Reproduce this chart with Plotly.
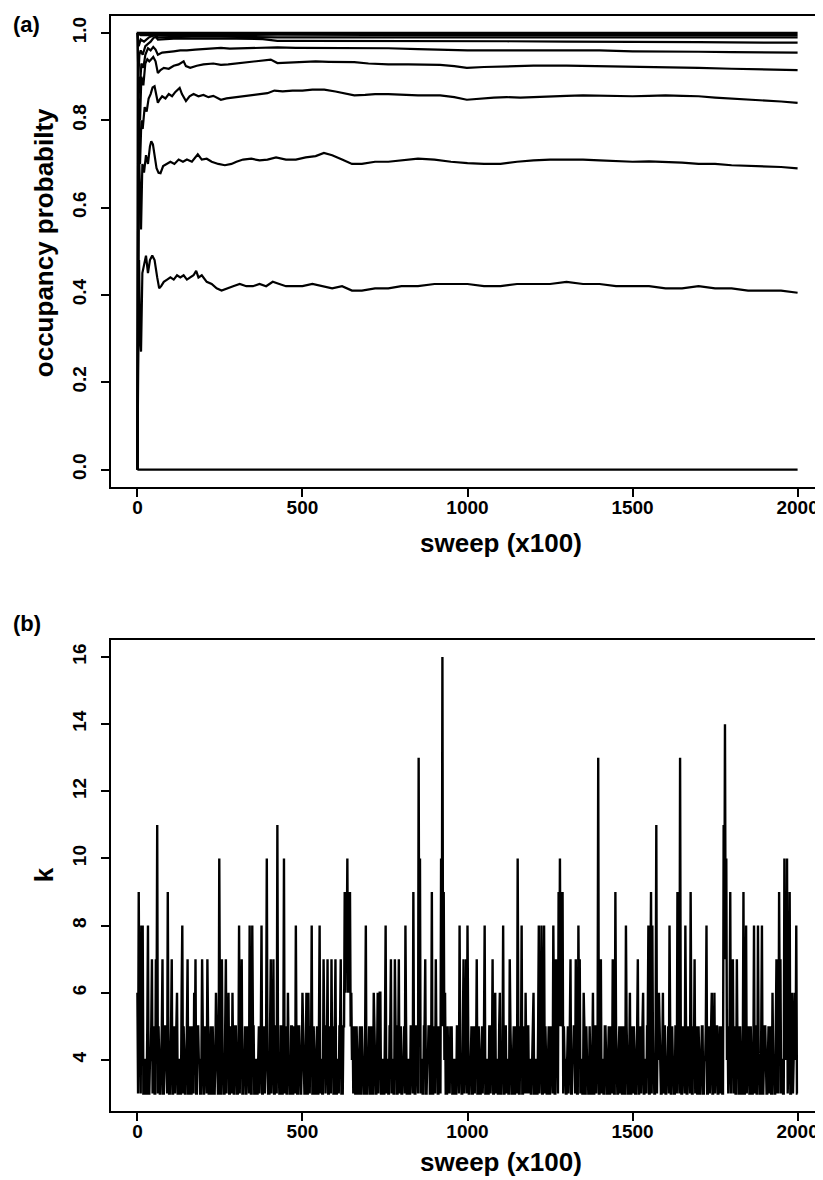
import plotly.graph_objects as go

# ---------------- Panel (a): occupancy probability traces (sweep, value) ----------------
line_041 = [(0, 0), (2, 0.33), (5, 0.48), (8, 0.30), (11, 0.27), (15, 0.45), (20, 0.47), (26, 0.49),
            (32, 0.45), (38, 0.48), (45, 0.49), (52, 0.48), (60, 0.44), (66, 0.415), (72, 0.42),
            (80, 0.43), (90, 0.435), (100, 0.44), (110, 0.435), (120, 0.445), (130, 0.44), (140, 0.445),
            (150, 0.435), (160, 0.44), (170, 0.445), (178, 0.455), (185, 0.44), (195, 0.445), (210, 0.43),
            (225, 0.425), (240, 0.415), (255, 0.41), (270, 0.415), (290, 0.42), (310, 0.425), (330, 0.42),
            (350, 0.42), (370, 0.425), (390, 0.42), (410, 0.43), (430, 0.425), (450, 0.42), (475, 0.42),
            (500, 0.42), (530, 0.425), (560, 0.42), (590, 0.415), (620, 0.42), (650, 0.41), (680, 0.41),
            (720, 0.415), (760, 0.415), (800, 0.42), (850, 0.42), (900, 0.425), (950, 0.425), (1000, 0.425),
            (1050, 0.42), (1100, 0.42), (1150, 0.425), (1200, 0.425), (1250, 0.425), (1300, 0.43),
            (1350, 0.425), (1400, 0.425), (1450, 0.42), (1500, 0.42), (1550, 0.42), (1600, 0.415),
            (1650, 0.415), (1700, 0.42), (1750, 0.415), (1800, 0.415), (1850, 0.41), (1900, 0.41),
            (1950, 0.41), (2000, 0.405)]

line_069 = [(0, 0), (2, 0.55), (5, 0.72), (8, 0.60), (11, 0.55), (15, 0.70), (20, 0.68), (26, 0.72),
            (32, 0.70), (38, 0.74), (42, 0.752), (47, 0.745), (52, 0.72), (58, 0.69), (64, 0.68),
            (70, 0.679), (78, 0.695), (88, 0.70), (100, 0.705), (112, 0.70), (125, 0.71), (138, 0.705),
            (150, 0.71), (165, 0.705), (183, 0.722), (195, 0.71), (210, 0.712), (225, 0.705), (245, 0.70),
            (265, 0.697), (285, 0.70), (300, 0.705), (320, 0.71), (345, 0.712), (370, 0.708), (394, 0.71),
            (420, 0.715), (450, 0.71), (480, 0.71), (510, 0.715), (540, 0.718), (565, 0.725), (590, 0.72),
            (620, 0.71), (650, 0.70), (680, 0.70), (720, 0.705), (760, 0.705), (800, 0.708), (850, 0.712),
            (900, 0.71), (950, 0.705), (1000, 0.702), (1050, 0.70), (1100, 0.70), (1150, 0.705),
            (1200, 0.708), (1250, 0.71), (1300, 0.71), (1350, 0.71), (1400, 0.708), (1450, 0.706),
            (1500, 0.705), (1550, 0.706), (1600, 0.705), (1650, 0.703), (1700, 0.70), (1750, 0.70),
            (1800, 0.697), (1850, 0.696), (1900, 0.695), (1950, 0.693), (2000, 0.69)]

line_084 = [(0, 0), (2, 0.5), (5, 0.75), (8, 0.70), (12, 0.80), (16, 0.78), (22, 0.83), (28, 0.82),
            (34, 0.85), (40, 0.86), (46, 0.875), (52, 0.878), (57, 0.86), (62, 0.84), (68, 0.848),
            (75, 0.855), (85, 0.85), (95, 0.86), (105, 0.855), (115, 0.865), (128, 0.874), (135, 0.86),
            (147, 0.844), (158, 0.855), (170, 0.86), (185, 0.855), (200, 0.858), (215, 0.853), (230, 0.856),
            (253, 0.847), (270, 0.85), (290, 0.852), (310, 0.855), (330, 0.857), (360, 0.86), (394, 0.862),
            (415, 0.868), (440, 0.866), (470, 0.868), (500, 0.868), (530, 0.87), (566, 0.87), (600, 0.866),
            (630, 0.862), (657, 0.857), (690, 0.858), (720, 0.86), (760, 0.86), (800, 0.858), (850, 0.857),
            (917, 0.857), (960, 0.853), (998, 0.847), (1040, 0.85), (1080, 0.852), (1119, 0.853),
            (1160, 0.852), (1200, 0.853), (1250, 0.855), (1300, 0.856), (1350, 0.857), (1400, 0.856),
            (1450, 0.855), (1500, 0.855), (1550, 0.856), (1600, 0.857), (1650, 0.856), (1700, 0.855),
            (1750, 0.852), (1800, 0.85), (1850, 0.848), (1900, 0.846), (1950, 0.843), (2000, 0.84)]

line_0915 = [(0, 0), (2, 0.6), (5, 0.85), (8, 0.80), (12, 0.9), (18, 0.88), (24, 0.93), (30, 0.94),
             (36, 0.935), (42, 0.94), (48, 0.945), (55, 0.935), (62, 0.908), (70, 0.915), (80, 0.92),
             (95, 0.918), (110, 0.925), (125, 0.928), (140, 0.935), (147, 0.924), (160, 0.92), (180, 0.925),
             (200, 0.928), (230, 0.93), (253, 0.927), (275, 0.928), (300, 0.93), (330, 0.932), (360, 0.934),
             (404, 0.939), (424, 0.931), (460, 0.932), (500, 0.934), (540, 0.935), (580, 0.934),
             (620, 0.934), (657, 0.933), (700, 0.93), (760, 0.928), (820, 0.928), (870, 0.927),
             (917, 0.927), (960, 0.924), (998, 0.92), (1050, 0.922), (1119, 0.924), (1200, 0.925),
             (1300, 0.925), (1400, 0.924), (1500, 0.922), (1600, 0.922), (1700, 0.92), (1800, 0.918),
             (1900, 0.917), (2000, 0.915)]

line_0955 = [(0, 0), (2, 0.7), (5, 0.9), (8, 0.88), (12, 0.93), (18, 0.92), (24, 0.95), (32, 0.965),
             (40, 0.96), (48, 0.968), (55, 0.962), (62, 0.95), (75, 0.955), (90, 0.957), (110, 0.958),
             (130, 0.96), (150, 0.96), (175, 0.962), (200, 0.963), (230, 0.964), (253, 0.966), (280, 0.964),
             (320, 0.965), (370, 0.966), (424, 0.967), (480, 0.966), (550, 0.966), (657, 0.966),
             (760, 0.965), (850, 0.963), (917, 0.962), (1000, 0.96), (1119, 0.96), (1250, 0.96),
             (1400, 0.96), (1500, 0.958), (1600, 0.958), (1700, 0.957), (1800, 0.956), (1900, 0.956),
             (2000, 0.955)]

line_098 = [(0, 1), (3, 0.9), (6, 0.95), (10, 0.96), (16, 0.95), (24, 0.97), (32, 0.975), (40, 0.98),
            (50, 0.99), (57, 0.99), (62, 0.985), (80, 0.986), (110, 0.987), (150, 0.987), (200, 0.987),
            (253, 0.988), (300, 0.987), (380, 0.986), (424, 0.982), (500, 0.982), (650, 0.982),
            (800, 0.981), (917, 0.981), (1119, 0.981), (1300, 0.98), (1500, 0.98), (1700, 0.979),
            (1900, 0.978), (2000, 0.978)]

line_099 = [(0, 1), (4, 0.97), (10, 0.985), (20, 0.98), (35, 0.99), (50, 0.995), (62, 0.99),
            (100, 0.991), (200, 0.992), (424, 0.99), (800, 0.99), (1200, 0.99), (1600, 0.99), (2000, 0.99)]

line_0995 = [(0, 1), (10, 0.995), (62, 0.995), (424, 0.996), (1000, 0.995), (2000, 0.995)]

line_100 = [(0, 0), (1, 1), (2000, 1)]

line_000 = [(0, 0), (2000, 0)]

occupancy_lines = [line_000, line_041, line_069, line_084, line_0915, line_0955,
                   line_098, line_099, line_0995, line_100]

# ---------------- Panel (b): number of components k ----------------
# digits 3-9, letters a-g = 10-16
# values read at sweeps 0, 4, 8, ... 2000
k_codes = (
    "69588 34383 47537 b5347 35493 47354 63438 53473 53467 35437"
    "35473 43534 53a37 43756 34635 43857 34354 83853 43548 354a3"
    "37473 5b435 3a436 43534 83543 64363 45834 35384 37547 34753"
    "73457 3599a 99654 35343 54383 43536 43656 34384 35743 75374"
    "34583 43549 354da 43573 45393 47534 ag963 54553 43548 43747"
    "83453 45734 35483 43547 36435 34835 43743 534a3 58346 35434"
    "63438 48385 34354 83759 a9954 35473 45738 74363 54343 6354d"
    "37435 43534 73943 54353 84363 45347 35463 45839 843b5 64365"
    "34583 54359 4d354 83549 35743 53453 48354 63645 3543b ea549"
    "57437 53439 38453 43853 84383 54354 36437 59743 a5a49 36468"
    "3"
).replace(" ", "")
# values read at the in-between sweeps 2, 6, 10, ... 1998
k_codes_mid = (
    "35353 43534 53435 34353 45343 53435 34363 43534 35343 54345"
    "34353 53436 43534 35343 53435 34353 45343 53534 34353 43543"
    "53435 34353 43534 35353 43534 53436 34353 43534 35343 53435"
    "34353 35676 65435 34353 43534 53435 34363 43534 35343 53435"
    "34353 43534 35353 43534 53435 34353 55433 33433 43534 35343"
    "53435 34353 43534 35343 53436 34353 43534 35353 43534 53435"
    "34353 43534 35343 53435 55343 43534 53435 34353 43534 35343"
    "53435 34353 43534 35343 53435 34353 43534 35363 43534 53435"
    "34353 43534 35343 53435 34353 43534 53435 34353 43537 74353"
    "43534 35343 53435 34353 43534 53435 34353 35343 44343 53543"
).replace(" ", "")
k_step = 4  # sweeps between the values of k_codes

k_main = [int(c, 17) for c in k_codes]
k_mid = [int(c, 17) for c in k_codes_mid]

k_sweeps, k_values = [], []
for i, v in enumerate(k_main):
    k_sweeps.append(i * k_step)
    k_values.append(v)
    if i < len(k_mid):
        k_sweeps.append(i * k_step + k_step // 2)
        k_values.append(k_mid[i])

x_ticks = [0, 500, 1000, 1500, 2000]
ya_ticks = [0.0, 0.2, 0.4, 0.6, 0.8, 1.0]
yb_ticks = [4, 6, 8, 10, 12, 14, 16]

# ---------------- Figure ----------------
W, H = 823, 1180
ML, MR, MT, MB = 103, 5, 7, 77
PH = H - MT - MB  # plot area height in px


def py(p):
    """pixel y (from top) -> paper y"""
    return (H - MB - p) / PH


def clamp(v):
    return min(1.0, max(0.0, v))


def px(p):
    return (p - ML) / (W - ML - MR)


fig = go.Figure()

for ln in occupancy_lines:
    xs = [p[0] for p in ln]
    ys = [p[1] for p in ln]
    fig.add_trace(go.Scatter(x=xs, y=ys, mode="lines", line=dict(color="black", width=2.2),
                             xaxis="x", yaxis="y", showlegend=False, hoverinfo="skip"))

fig.add_trace(go.Scatter(x=k_sweeps, y=k_values, mode="lines",
                         line=dict(color="black", width=2.4, simplify=False),
                         xaxis="x2", yaxis="y2", showlegend=False, hoverinfo="skip"))

font_family = "Liberation Sans, Arial, Helvetica, sans-serif"
tickfont = dict(family=font_family, size=19, color="black", weight="bold")

axis_common = dict(showline=True, linecolor="black", linewidth=2, mirror=True, ticks="outside",
                   ticklen=8, tickwidth=2, tickcolor="black", showgrid=False, zeroline=False,
                   tickfont=tickfont)

fig.update_layout(
    width=W, height=H,
    margin=dict(l=ML, r=MR, t=MT, b=MB),
    paper_bgcolor="white", plot_bgcolor="white",
    xaxis=dict(domain=[0, 1], range=[-80, 2080], anchor="y", tickvals=x_ticks,
               ticklabelstandoff=-6, **axis_common),
    yaxis=dict(domain=[clamp(py(479)), clamp(py(7.5))], range=[-0.04, 1.04], anchor="x", tickvals=ya_ticks,
               tickformat=".1f", tickangle=-90, ticklabelstandoff=7, **axis_common),
    xaxis2=dict(domain=[0, 1], range=[-80, 2080], anchor="y2", tickvals=x_ticks,
                ticklabelstandoff=-6, **axis_common),
    yaxis2=dict(domain=[clamp(py(1103.5)), clamp(py(631.5))], range=[2.48, 16.52], anchor="x2",
                tickvals=yb_ticks, tickangle=-90, ticklabelstandoff=7, **axis_common),
)

title_font = dict(family=font_family, size=26, color="black", weight="bold")
label_font = dict(family=font_family, size=22, color="black", weight="bold")

annotations = [
    dict(text="sweep (x100)", x=px(494), y=py(535), xref="paper", yref="paper", showarrow=False,
         xanchor="center", yanchor="middle", font=title_font),
    dict(text="sweep (x100)", x=px(494), y=py(1154), xref="paper", yref="paper", showarrow=False,
         xanchor="center", yanchor="middle", font=title_font),
    dict(text="occupancy probabilty", x=px(36), y=py(235), xref="paper", yref="paper", showarrow=False,
         xanchor="center", yanchor="middle", textangle=-90, font=title_font),
    dict(text="k", x=px(36), y=py(867), xref="paper", yref="paper", showarrow=False,
         xanchor="center", yanchor="middle", textangle=-90, font=title_font),
    dict(text="(a)", x=px(3), y=py(17), xref="paper", yref="paper", showarrow=False,
         xanchor="left", yanchor="middle", font=label_font),
    dict(text="(b)", x=px(3), y=py(615), xref="paper", yref="paper", showarrow=False,
         xanchor="left", yanchor="middle", font=label_font),
]
fig.update_layout(annotations=annotations)

fig.write_html("out.html")
